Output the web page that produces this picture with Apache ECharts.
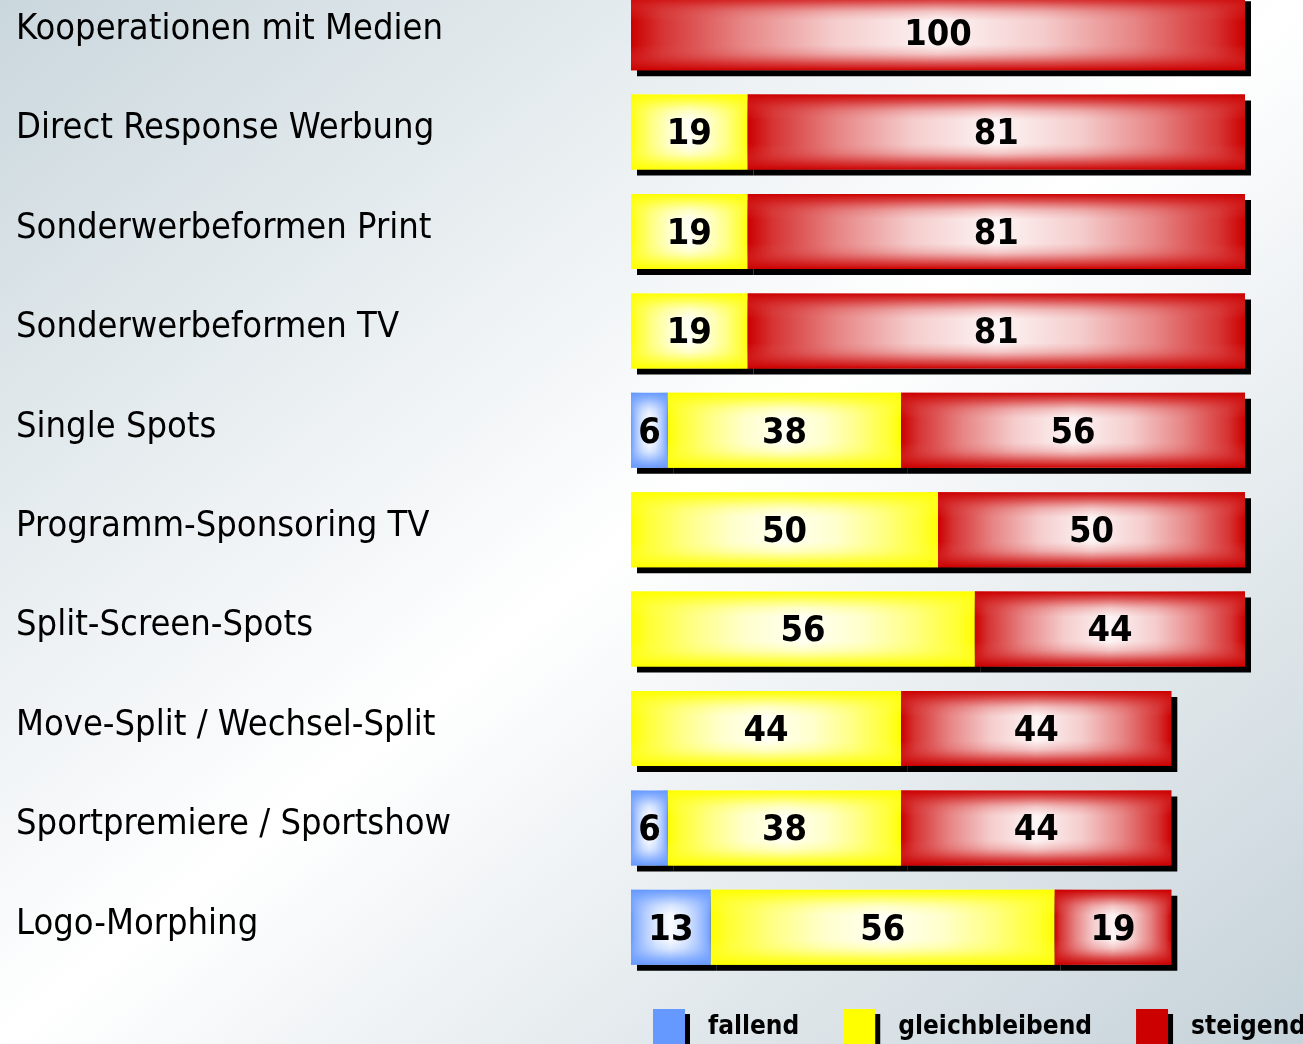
<!DOCTYPE html>
<html lang="de">
<head>
    <meta charset="UTF-8">
    <title>Werbeformen Trend</title>
    <script src="https://cdn.jsdelivr.net/npm/echarts@6/dist/echarts.min.js"></script>
    <style>
        body {
            margin: 0;
            padding: 0;
        }
        #chart {
            width: 1303px;
            height: 1044px;
            background: linear-gradient(to bottom right, #cad7dd 0%, #ffffff 50%, #c5d2d9 100%);
        }
    </style>
</head>
<body>
    <div id="chart"></div>

    <script>
        // data
        const categories = [
            'Kooperationen mit Medien',
            'Direct Response Werbung',
            'Sonderwerbeformen Print',
            'Sonderwerbeformen TV',
            'Single Spots',
            'Programm-Sponsoring TV',
            'Split-Screen-Spots',
            'Move-Split / Wechsel-Split',
            'Sportpremiere / Sportshow',
            'Logo-Morphing'
        ];
        const fallend = ['-', '-', '-', '-', 6, '-', '-', '-', 6, 13];
        const gleichbleibend = ['-', 19, 19, 19, 38, 50, 56, 44, 38, 56];
        const steigend = [100, 81, 81, 81, 56, 50, 44, 44, 44, 19];

        const seriesNames = ['fallend', 'gleichbleibend', 'steigend'];
        const seriesData = [fallend, gleichbleibend, steigend];
        const baseColors = ['#6699ff', '#ffff00', '#cc0000'];

        const FONT = "'DejaVu Sans Condensed', 'DejaVu Sans', sans-serif";

        // blend a hex colour towards white
        function mix(hex, t, alpha) {
            const r = parseInt(hex.slice(1, 3), 16);
            const g = parseInt(hex.slice(3, 5), 16);
            const b = parseInt(hex.slice(5, 7), 16);
            const m = v => Math.round(v + (255 - v) * t);
            return 'rgba(' + m(r) + ',' + m(g) + ',' + m(b) + ',' + (alpha === undefined ? 1 : alpha) + ')';
        }

        // left-right "pillow" gradient
        function horizGrad(c) {
            return new echarts.graphic.LinearGradient(0, 0, 1, 0, [
                { offset: 0, color: mix(c, 0) },
                { offset: 0.05, color: mix(c, 0.2) },
                { offset: 0.18, color: mix(c, 0.52) },
                { offset: 0.33, color: mix(c, 0.8) },
                { offset: 0.5, color: mix(c, 0.96) },
                { offset: 0.67, color: mix(c, 0.8) },
                { offset: 0.82, color: mix(c, 0.52) },
                { offset: 0.95, color: mix(c, 0.2) },
                { offset: 1, color: mix(c, 0) }
            ]);
        }

        // top/bottom edge overlay
        function vertGrad(c) {
            return new echarts.graphic.LinearGradient(0, 0, 0, 1, [
                { offset: 0, color: mix(c, 0, 1) },
                { offset: 0.1, color: mix(c, 0.1, 0.7) },
                { offset: 0.22, color: mix(c, 0.25, 0.25) },
                { offset: 0.34, color: mix(c, 0.4, 0) },
                { offset: 0.66, color: mix(c, 0.4, 0) },
                { offset: 0.78, color: mix(c, 0.25, 0.25) },
                { offset: 0.9, color: mix(c, 0.1, 0.7) },
                { offset: 1, color: mix(c, 0, 1) }
            ]);
        }

        const chart = echarts.init(document.getElementById('chart'));

        const series = [];
        seriesNames.forEach((name, i) => {
            series.push({
                name: name,
                type: 'bar',
                stack: 'base',
                barWidth: 75,
                barGap: '-100%',
                data: seriesData[i],
                silent: true,
                itemStyle: {
                    color: horizGrad(baseColors[i]),
                    shadowColor: '#000',
                    shadowBlur: 0,
                    shadowOffsetX: 6,
                    shadowOffsetY: 6
                }
            });
        });
        seriesNames.forEach((name, i) => {
            series.push({
                name: name + '_glanz',
                type: 'bar',
                stack: 'glanz',
                barWidth: 75,
                barGap: '-100%',
                data: seriesData[i],
                silent: true,
                itemStyle: {
                    color: vertGrad(baseColors[i])
                },
                label: {
                    show: true,
                    position: 'inside',
                    offset: [0, 3],
                    color: '#000',
                    fontFamily: FONT,
                    fontWeight: 'bold',
                    fontSize: 36
                }
            });
        });

        const option = {
            animation: false,
            backgroundColor: 'transparent',
            grid: {
                left: 631,
                width: 614,
                top: -17,
                height: 994,
                containLabel: false,
                outerBoundsMode: 'none'
            },
            xAxis: {
                type: 'value',
                min: 0,
                max: 100,
                show: false
            },
            yAxis: {
                type: 'category',
                inverse: true,
                data: categories,
                axisLine: { show: false },
                axisTick: { show: false },
                splitLine: { show: false },
                axisLabel: {
                    align: 'left',
                    verticalAlign: 'bottom',
                    lineHeight: 6,
                    margin: 615,
                    color: '#000',
                    fontFamily: FONT,
                    fontSize: 36
                }
            },
            legend: {
                left: 653,
                top: 1009,
                width: 700,
                padding: 0,
                itemWidth: 32,
                itemHeight: 36,
                itemGap: 44,
                selectedMode: false,
                data: seriesNames.map((n, i) => ({
                    name: n,
                    icon: 'rect',
                    itemStyle: {
                        color: baseColors[i],
                        shadowColor: '#000',
                        shadowBlur: 0,
                        shadowOffsetX: 5,
                        shadowOffsetY: 5
                    }
                })),
                textStyle: {
                    color: '#000',
                    fontFamily: FONT,
                    fontWeight: 'bold',
                    fontSize: 26,
                    padding: [0, 0, 0, 18]
                }
            },
            series: series
        };

        chart.setOption(option);
    </script>
</body>
</html>
